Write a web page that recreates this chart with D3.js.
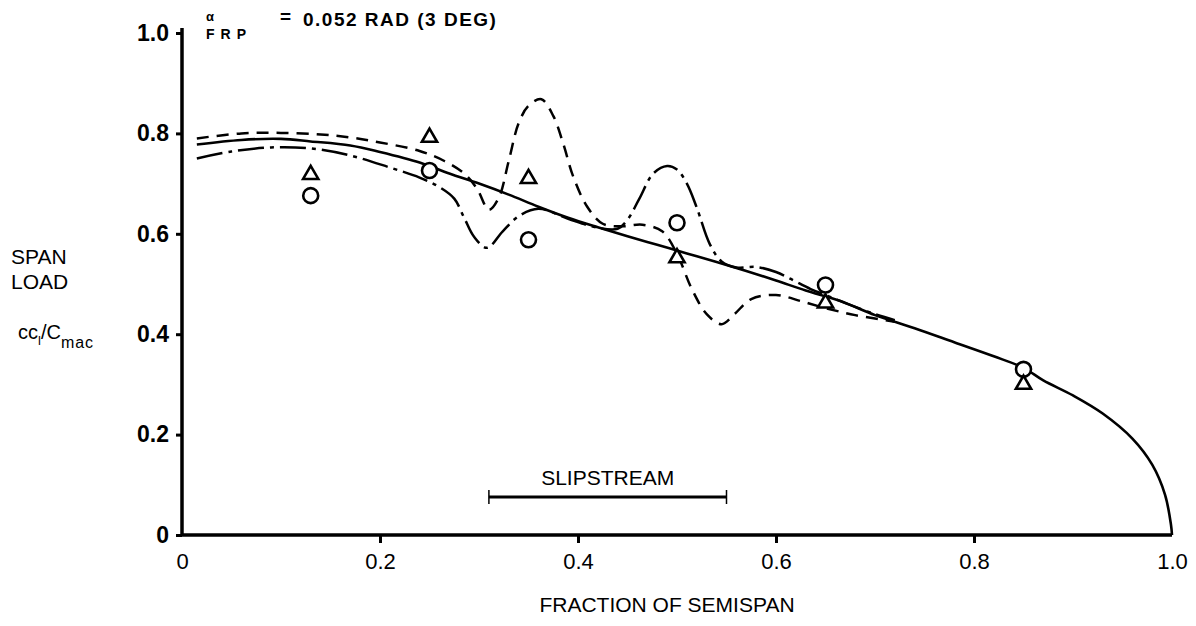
<!DOCTYPE html>
<html>
<head>
<meta charset="utf-8">
<script src="https://cdn.jsdelivr.net/npm/d3@7"></script>
<style>
  html, body { margin: 0; padding: 0; background: #fff; }
  svg { display: block; }
  text { font-family: "Liberation Sans", Arial, Helvetica, sans-serif; fill: #000; }
</style>
</head>
<body>
<svg id="chart" width="1196" height="626"></svg>
<script>
// ---- data ----
const xTicks = [0, 0.2, 0.4, 0.6, 0.8, 1.0];
const xTickLabels = ["0", "0.2", "0.4", "0.6", "0.8", "1.0"];
const yTicks = [0, 0.2, 0.4, 0.6, 0.8, 1.0];
const yTickLabels = ["0", "0.2", "0.4", "0.6", "0.8", "1.0"];

// solid theory curve (no slipstream)
const solidCurve = [[0.015,0.778],[0.06,0.787],[0.1,0.789],[0.13,0.784],[0.17,0.776],[0.2,0.763],[0.24,0.742],[0.27,0.72],[0.3,0.7],[0.33,0.678],[0.36,0.654],[0.39,0.632],[0.42,0.613],[0.45,0.595],[0.48,0.578],[0.51,0.561],[0.54,0.544],[0.57,0.526],[0.6,0.507],[0.63,0.487],[0.665,0.466],[0.7,0.438],[0.74,0.412],[0.78,0.384],[0.82,0.356],[0.85,0.333],[0.87,0.308],[0.9,0.278],[0.93,0.242],[0.96,0.192],[0.98,0.14],[0.993,0.08],[0.999,0.02],[1.0,0]];
// dashed curve
const dashedCurve = [[0.015,0.79],[0.06,0.8],[0.1,0.801],[0.14,0.798],[0.17,0.792],[0.2,0.782],[0.24,0.765],[0.265,0.745],[0.285,0.72],[0.298,0.69],[0.31,0.648],[0.32,0.672],[0.33,0.745],[0.34,0.82],[0.35,0.855],[0.363,0.868],[0.375,0.835],[0.385,0.78],[0.395,0.715],[0.409,0.655],[0.425,0.62],[0.445,0.615],[0.465,0.618],[0.485,0.605],[0.5,0.56],[0.515,0.49],[0.53,0.44],[0.545,0.42],[0.558,0.44],[0.575,0.47],[0.6,0.478],[0.625,0.466],[0.65,0.452],[0.68,0.438],[0.72,0.425]];
// dash-dot curve
const dashDotCurve = [[0.015,0.75],[0.05,0.764],[0.09,0.772],[0.13,0.77],[0.17,0.756],[0.21,0.732],[0.24,0.712],[0.26,0.693],[0.275,0.67],[0.285,0.632],[0.295,0.594],[0.308,0.572],[0.324,0.605],[0.34,0.635],[0.36,0.65],[0.39,0.63],[0.42,0.612],[0.44,0.61],[0.45,0.628],[0.462,0.67],[0.476,0.72],[0.49,0.735],[0.5,0.728],[0.51,0.7],[0.52,0.652],[0.533,0.58],[0.545,0.545],[0.56,0.533],[0.58,0.534],[0.6,0.524],[0.615,0.51],[0.635,0.49],[0.65,0.478],[0.67,0.462],[0.7,0.44],[0.72,0.428]];

// measured points
const circleX = [0.13, 0.25, 0.35, 0.50, 0.65, 0.85];
const circleY = [0.676, 0.726, 0.588, 0.622, 0.498, 0.33];
const triangleX = [0.13, 0.25, 0.35, 0.50, 0.65, 0.85];
const triangleY = [0.718, 0.792, 0.71, 0.552, 0.462, 0.30];

// slipstream extent
const slipstream = [0.31, 0.55];

// ---- chart ----
const svg = d3.select("#chart");
const x = d3.scaleLinear().domain([0, 1]).range([182, 1172]);
const y = d3.scaleLinear().domain([0, 1]).range([535, 33]);

const line = d3.line().x(d => x(d[0])).y(d => y(d[1])).curve(d3.curveCatmullRom.alpha(0.5));

// curves
svg.append("path").datum(solidCurve).attr("d", line)
  .attr("fill", "none").attr("stroke", "#000").attr("stroke-width", 2.6);
svg.append("path").datum(dashedCurve).attr("d", line)
  .attr("fill", "none").attr("stroke", "#000").attr("stroke-width", 2.5)
  .attr("stroke-dasharray", "12,8");
svg.append("path").datum(dashDotCurve).attr("d", line)
  .attr("fill", "none").attr("stroke", "#000").attr("stroke-width", 2.5)
  .attr("stroke-dasharray", "26,6,4,6");

// markers
svg.selectAll("circle.pt").data(circleX.map((v, i) => [v, circleY[i]]))
  .enter().append("circle").attr("class", "pt")
  .attr("cx", d => x(d[0])).attr("cy", d => y(d[1])).attr("r", 7.5)
  .attr("fill", "#fff").attr("stroke", "#000").attr("stroke-width", 2.6);
const tri = d3.symbol().type(d3.symbolTriangle).size(100);
svg.selectAll("path.tri").data(triangleX.map((v, i) => [v, triangleY[i]]))
  .enter().append("path").attr("class", "tri")
  .attr("d", tri)
  .attr("transform", d => `translate(${x(d[0])},${y(d[1])})`)
  .attr("fill", "#fff").attr("stroke", "#000").attr("stroke-width", 2.6);

// axes
const xAxis = d3.axisBottom(x).tickValues(xTicks).tickSize(8).tickFormat((d, i) => xTickLabels[i]);
const gx = svg.append("g").attr("transform", `translate(0,${y(0)})`).call(xAxis);
gx.select(".domain").attr("stroke-width", 3.5).attr("d", `M${x(0)},0H${x(1)}`);
gx.selectAll(".tick line").attr("stroke-width", 3);
gx.selectAll(".tick").filter(d => d === 0 || d === 1).select("line").remove();
gx.selectAll(".tick text").attr("font-size", 22).attr("dy", "1.05em");

const yAxis = d3.axisLeft(y).tickValues(yTicks).tickSize(6).tickFormat((d, i) => yTickLabels[i]);
const gy = svg.append("g").attr("transform", `translate(${x(0)},0)`).call(yAxis);
gy.select(".domain").attr("stroke-width", 3.5).attr("d", `M0,${y(0)}V${y(1) - 5}`);
gy.selectAll(".tick line").attr("stroke-width", 3);
gy.selectAll(".tick text").attr("font-size", 23).attr("font-weight", "bold").attr("x", -13);

// slipstream bar
const sb = svg.append("g");
sb.append("line").attr("x1", x(slipstream[0])).attr("x2", x(slipstream[1]))
  .attr("y1", 497).attr("y2", 497).attr("stroke", "#000").attr("stroke-width", 3);
sb.selectAll("line.cap").data(slipstream).enter().append("line").attr("class", "cap")
  .attr("x1", d => x(d)).attr("x2", d => x(d)).attr("y1", 490).attr("y2", 504)
  .attr("stroke", "#000").attr("stroke-width", 1.5);
sb.append("text").attr("x", x((slipstream[0] + slipstream[1]) / 2)).attr("y", 485)
  .attr("text-anchor", "middle").attr("font-size", 21)
  .text("SLIPSTREAM");

// axis titles
svg.append("text").attr("x", 667).attr("y", 612).attr("text-anchor", "middle")
  .attr("font-size", 21)
  .text("FRACTION OF SEMISPAN");
svg.append("text").attr("x", 11).attr("y", 264).attr("font-size", 21).text("SPAN");
svg.append("text").attr("x", 11).attr("y", 289).attr("font-size", 21).text("LOAD");
const yl = svg.append("text").attr("x", 18).attr("y", 339).attr("font-size", 20);
yl.append("tspan").text("cc");
yl.append("tspan").attr("font-size", 13).attr("dy", 6).text("l");
yl.append("tspan").attr("dy", -6).text("/C");
yl.append("tspan").attr("font-size", 16).attr("dy", 9).attr("letter-spacing", 1).text("mac");

// title
svg.append("text").attr("x", 206).attr("y", 21).attr("font-size", 13).attr("font-weight", "bold").text("α");
svg.append("text").attr("x", 206).attr("y", 39).attr("font-size", 14).attr("font-weight", "bold")
  .attr("letter-spacing", 6).text("FRP");
svg.append("text").attr("x", 280).attr("y", 23).attr("font-size", 19).attr("font-weight", "bold").text("=");
svg.append("text").attr("x", 303).attr("y", 26).attr("font-size", 19).attr("font-weight", "bold")
  .attr("letter-spacing", 1.5).text("0.052 RAD (3 DEG)");
</script>
</body>
</html>
